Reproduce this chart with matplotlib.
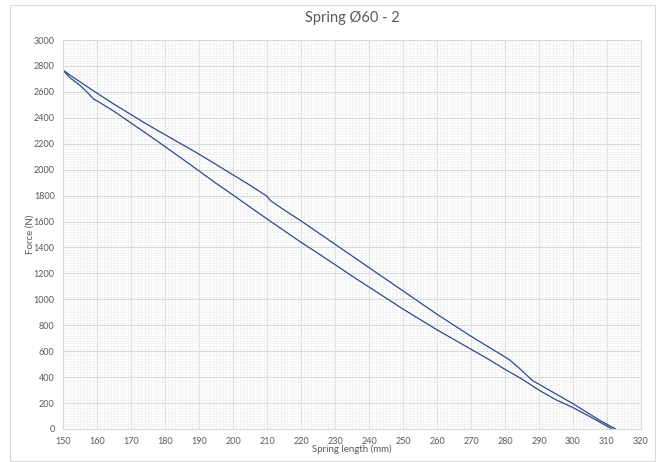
import matplotlib
matplotlib.use("Agg")
import numpy as np
import matplotlib.pyplot as plt
from matplotlib.ticker import MultipleLocator
from matplotlib.patches import Rectangle

plt.rcParams['font.family'] = ['Lato', 'DejaVu Sans']

# loading branch (upper curve)
up_x = [312.5, 308, 304, 300, 296, 292, 288, 285, 281.5, 279, 275, 270, 265, 260,
        255, 250, 245, 240, 235, 230, 225, 220, 215, 211, 210, 205, 200, 195,
        190, 185, 180, 175, 170, 165, 160, 156, 153, 150]
up_f = [0, 65, 130, 195, 255, 315, 375, 450, 530, 572, 635, 715, 800, 885,
        975, 1065, 1155, 1245, 1335, 1425, 1515, 1605, 1690, 1762, 1795, 1880, 1960, 2040,
        2120, 2195, 2270, 2345, 2425, 2505, 2590, 2660, 2712, 2768]

# unloading branch (lower curve)
lo_x = [150, 152, 155, 157, 159, 161, 165, 170, 175, 180, 185, 190, 195, 200,
        205, 210, 215, 220, 225, 230, 235, 240, 245, 250, 255, 260, 265, 270,
        275, 280, 285, 290, 295, 300, 305, 311.5]
lo_f = [2768, 2710, 2650, 2600, 2545, 2515, 2450, 2360, 2270, 2178, 2085, 1990, 1895, 1805,
        1712, 1620, 1530, 1440, 1355, 1268, 1180, 1095, 1010, 925, 845, 765, 690, 615,
        540, 460, 385, 300, 225, 165, 95, 0]

fig = plt.figure(figsize=(6.63, 4.62), dpi=100)
fig.patches.append(Rectangle((10 / 663, 1 / 462), 645 / 663, 456 / 462,
                             transform=fig.transFigure, fill=False,
                             edgecolor="#d9d9d9", linewidth=0.8))
ax = fig.add_axes([63 / 663, 1 - 429 / 462, 578 / 663, 389 / 462])

ax.plot(up_x + lo_x, up_f + lo_f, color="#2e4a8c", linewidth=0.9)

ax.set_xlim(150, 320)
ax.set_ylim(0, 3000)
ax.xaxis.set_major_locator(MultipleLocator(10))
ax.xaxis.set_minor_locator(MultipleLocator(1))
ax.yaxis.set_major_locator(MultipleLocator(200))
ax.yaxis.set_minor_locator(MultipleLocator(20))
ax.grid(which="major", color="#d9d9d9", linewidth=0.8)
ax.grid(which="minor", color="#f2f2f2", linewidth=0.6)
ax.set_axisbelow(True)
for s in ax.spines.values():
    s.set_color("#d9d9d9")
    s.set_linewidth(0.8)
ax.tick_params(which="both", length=0, labelsize=6.5, labelcolor="#595959", pad=6)

ax.set_title("Spring Ø60 - 2", fontsize=10.5, color="#595959", pad=13)
ax.set_xlabel("Spring length (mm)", fontsize=7, color="#595959", labelpad=-1)
ax.set_ylabel("Force (N)", fontsize=7, color="#595959", labelpad=-1)

fig.savefig("out.png", dpi=100)
